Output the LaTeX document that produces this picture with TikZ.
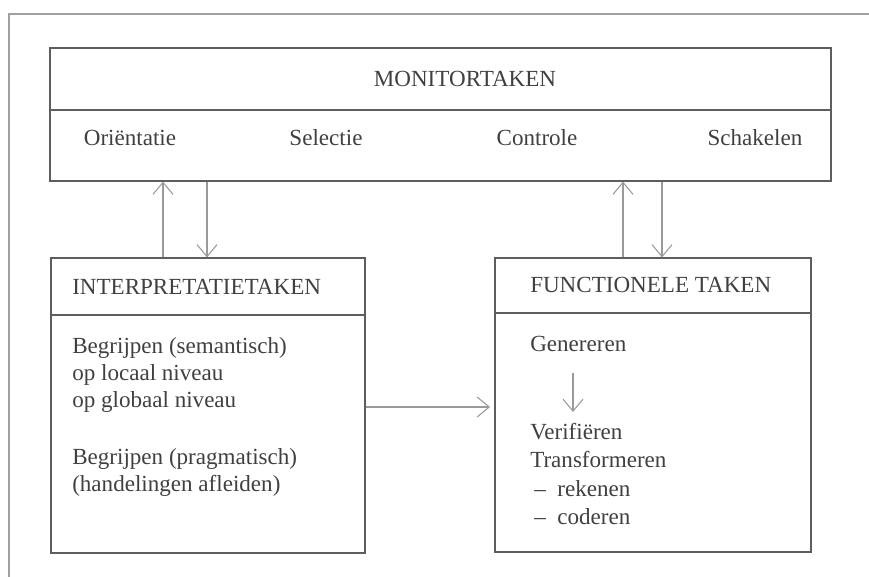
\documentclass[tikz,border=0pt]{standalone}
\usepackage{fontspec}
\setmainfont{Liberation Serif}
\usetikzlibrary{arrows.meta}
\definecolor{txt}{HTML}{404040}
\definecolor{edge}{HTML}{5E5E5E}
\definecolor{arr}{HTML}{9A9A9A}
\definecolor{frame}{HTML}{A0A0A0}
\tikzset{
  boxnode/.style={draw=edge, line width=0.8pt, rectangle, inner sep=0pt},
  lbl/.style={text=txt, inner sep=0pt, anchor=base west, font=\fontsize{17.3pt}{20pt}\selectfont},
  clbl/.style={text=txt, inner sep=0pt, anchor=base, font=\fontsize{17.3pt}{20pt}\selectfont},
  divider/.style={draw=edge, line width=0.8pt},
  arrline/.style={draw=arr, line width=0.8pt, -{Straight Barb[length=9pt,width=15pt,line width=0.8pt]}},
}
\begin{document}
\begin{tikzpicture}[x=0.75pt, y=-0.75pt]
\useasboundingbox (0,0) rectangle (869,577);
% partial outer frame
\draw[frame, line width=0.8pt] (9,577) -- (9,14) -- (869,14);

% boxes
\node[boxnode, minimum width=585.75pt, minimum height=99.75pt] (mon) at (440.5,114.5) {};
\node[boxnode, minimum width=235.5pt, minimum height=221.25pt] (int) at (208,405.5) {};
\node[boxnode, minimum width=237pt, minimum height=220.5pt] (fun) at (653,405) {};

% dividers
\draw[divider] (mon.west |- 0,110) -- (mon.east |- 0,110);
\draw[divider] (int.west |- 0,315) -- (int.east |- 0,315);
\draw[divider] (fun.west |- 0,313) -- (fun.east |- 0,313);

% monitor texts
\node[clbl] (montitle) at (465,87) {MONITORTAKEN};
\node[clbl] (ori) at (130,146) {Oriëntatie};
\node[clbl] (sel) at (326,146) {Selectie};
\node[clbl] (con) at (537,146) {Controle};
\node[clbl] (sch) at (755,146) {Schakelen};

% interpretatie texts
\node[lbl] (inttitle) at (72,295) {INTERPRETATIETAKEN};
\node[lbl] (i1) at (72,354) {Begrijpen (semantisch)};
\node[lbl] (i2) at (72,381) {op locaal niveau};
\node[lbl] (i3) at (72,408) {op globaal niveau};
\node[lbl] (i4) at (72,465) {Begrijpen (pragmatisch)};
\node[lbl] (i5) at (72,492) {(handelingen afleiden)};

% functionele texts
\node[lbl] (funtitle) at (530,293) {FUNCTIONELE TAKEN};
\node[lbl] (f1) at (530,352) {Genereren};
\node[lbl] (f2) at (530,440) {Verifiëren};
\node[lbl] (f3) at (530,468) {Transformeren};
\node[lbl] (f4) at (534,497) {–\enspace rekenen};
\node[lbl] (f5) at (534,525) {–\enspace coderen};

% arrows between boxes
\draw[arrline] (int.north -| 163,0) -- (mon.south -| 163,0);
\draw[arrline] (mon.south -| 207,0) -- (int.north -| 207,0);
\draw[arrline] (fun.north -| 623,0) -- (mon.south -| 623,0);
\draw[arrline] (mon.south -| 662,0) -- (fun.north -| 662,0);
\draw[arrline] (int.east |- 0,407) -- (490,407) coordinate (harrend);

% internal arrow
\coordinate (gstart) at (573,373);
\coordinate (gend) at (573,412);
\draw[arrline] (gstart) -- (gend);
\end{tikzpicture}
\end{document}
